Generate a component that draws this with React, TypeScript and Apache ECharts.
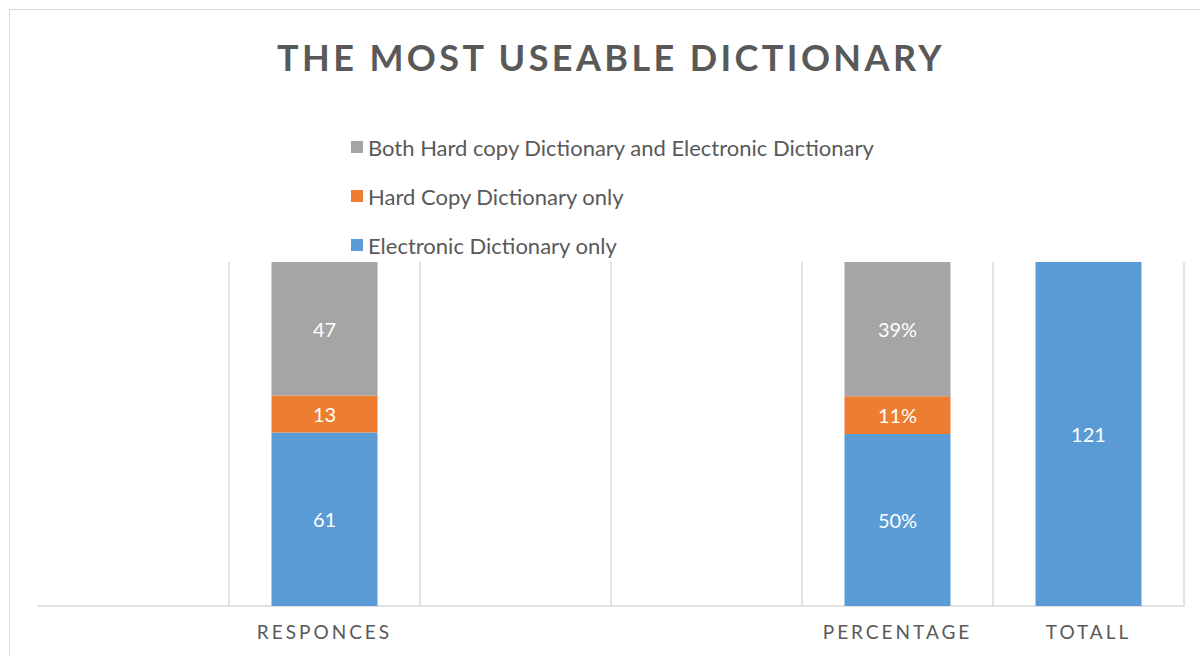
import React, { useEffect, useRef } from "react";
import * as echarts from "echarts";

const titleText = "THE MOST USEABLE DICTIONARY";
const categories = ["", "RESPONCES", "", "", "PERCENTAGE", "TOTALL"];
const seriesNames = [
  "Electronic Dictionary only",
  "Hard Copy Dictionary only",
  "Both Hard copy Dictionary and Electronic Dictionary",
];
// counts (RESPONCES column and TOTALL column)
const electronicCounts = [null, 61, null, null, null, 121];
const hardCopyCounts = [null, 13, null, null, null, null];
const bothCounts = [null, 47, null, null, null, null];
// shares (PERCENTAGE column)
const electronicPct = [null, null, null, null, 50, null];
const hardCopyPct = [null, null, null, null, 11, null];
const bothPct = [null, null, null, null, 39, null];
const countMax = 121;
const pctMax = 100;

const colors = ["#5B9BD5", "#ED7D31", "#A5A5A5"];
const FONT = "Lato, 'Open Sans', sans-serif";

export default function App() {
  const ref = useRef<HTMLDivElement>(null);
  useEffect(() => {
    if (!ref.current) return;
    const chart = echarts.init(ref.current, undefined, { renderer: "svg" });
    const label = (suffix: string) => ({
      show: true,
      position: "inside",
      color: "#FFFFFF",
      fontSize: 20,
      fontFamily: FONT,
      formatter: (p: any) => `${p.value}${suffix}`,
    });
    const mk = (i: number, data: any[], axis: number, stack: string, suffix: string) => ({
      name: seriesNames[i],
      type: "bar",
      data,
      stack,
      yAxisIndex: axis,
      barWidth: 106,
      barGap: "-100%",
      itemStyle: { color: colors[i] },
      label: label(suffix),
      emphasis: { disabled: true },
    });
    chart.setOption({
      animation: false,
      title: {
        text: titleText,
        left: 606,
        textAlign: "center",
        top: 34,
        textStyle: { fontSize: 36, fontWeight: "bold", color: "#595959", fontFamily: FONT },
      },
      legend: {
        orient: "vertical",
        left: 351,
        top: 136,
        padding: 0,
        itemWidth: 12,
        itemHeight: 12,
        itemGap: 27,
        icon: "rect",
        data: [seriesNames[2], seriesNames[1], seriesNames[0]],
        textStyle: { fontSize: 22, lineHeight: 22, color: "#595959", fontFamily: FONT },
        selectedMode: false,
      },
      graphic: [
        {
          type: "rect",
          shape: { x: 9.5, y: 9.5, width: 1400, height: 900 },
          style: { fill: "none", stroke: "#D9D9D9", lineWidth: 1 },
          silent: true,
        },
      ],
      grid: { left: 38, right: 16, top: 262, bottom: 50, containLabel: false },
      xAxis: {
        type: "category",
        data: categories,
        axisLine: { show: true, lineStyle: { color: "#D9D9D9", width: 1.5 } },
        axisTick: { show: false },
        splitLine: { show: true, showMinLine: false, lineStyle: { color: "#D9D9D9", width: 1.5 } },
        axisLabel: { color: "#595959", fontSize: 19, fontFamily: FONT, margin: 16, interval: 0 },
      },
      yAxis: [
        { type: "value", min: 0, max: countMax, show: false, splitLine: { show: false } },
        { type: "value", min: 0, max: pctMax, show: false, splitLine: { show: false } },
      ],
      series: [
        mk(0, electronicCounts, 0, "counts", ""),
        mk(1, hardCopyCounts, 0, "counts", ""),
        mk(2, bothCounts, 0, "counts", ""),
        mk(0, electronicPct, 1, "pct", "%"),
        mk(1, hardCopyPct, 1, "pct", "%"),
        mk(2, bothPct, 1, "pct", "%"),
      ],
    });
    return () => chart.dispose();
  }, []);
  return (
    <>
      <style>{`
        .dict-chart text[style*="36px"] { letter-spacing: 3.4px; }
        .dict-chart text[style*="19px"] { letter-spacing: 3px; }
      `}</style>
      <div
        ref={ref}
        className="dict-chart"
        style={{ position: "fixed", left: 0, top: 0, width: 1200, height: 656, background: "#fff" }}
      />
    </>
  );
}
